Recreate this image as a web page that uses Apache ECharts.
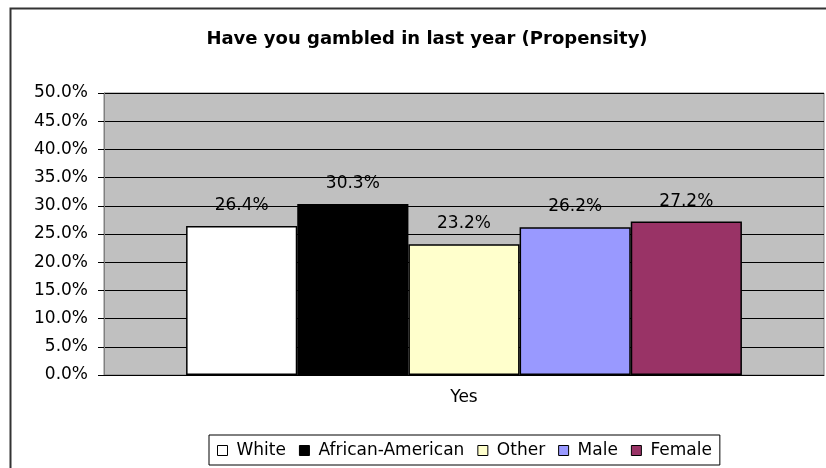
<!DOCTYPE html>
<html>
<head>
<meta charset="utf-8">
<script src="https://cdn.jsdelivr.net/npm/echarts@6/dist/echarts.min.js"></script>
<style>
html,body{margin:0;padding:0;background:#fff;}
#c{width:826px;height:468px;}
</style>
</head>
<body>
<div id="c"></div>
<script>
var categories = ['Yes'];
var seriesNames = ['White', 'African-American', 'Other', 'Male', 'Female'];
var seriesValues = [26.4, 30.3, 23.2, 26.2, 27.2];
var yTicks = [0, 5, 10, 15, 20, 25, 30, 35, 40, 45, 50];
var titleText = 'Have you gambled in last year (Propensity)';

var colors = ['#FFFFFF', '#000000', '#FFFFCC', '#9999FF', '#993366'];
var FONT = '"DejaVu Sans", Arial, sans-serif';

var chart = echarts.init(document.getElementById('c'), null, {renderer: 'canvas'});
var series = seriesNames.map(function (n, i) {
  return {
    name: n,
    type: 'bar',
    data: [seriesValues[i]],
    barGap: '0%',
    barCategoryGap: '22.8%',
    itemStyle: {color: colors[i], borderColor: '#000', borderWidth: 1.5},
    label: {
      show: true, position: 'top', distance: 12,
      formatter: function (p) { return p.value.toFixed(1) + '%'; },
      fontFamily: FONT, fontSize: 17, color: '#000'
    }
  };
});

chart.setOption({
  animation: false,
  backgroundColor: '#fff',
  title: {
    text: titleText, left: 422, textAlign: 'center', top: 25,
    textStyle: {fontFamily: FONT, fontSize: 18, fontWeight: 'bold', color: '#000'}
  },
  grid: {
    left: 104, top: 93, width: 720, height: 282,
    show: true, backgroundColor: '#C0C0C0', borderColor: '#808080', borderWidth: 1
  },
  legend: {
    data: seriesNames,
    left: 209, top: 435,
    padding: [7, 8, 6, 8],
    itemWidth: 10, itemHeight: 10, itemGap: 13,
    icon: 'rect',
    borderColor: '#000', borderWidth: 1,
    itemStyle: {borderColor: '#000', borderWidth: 1},
    textStyle: {fontFamily: FONT, fontSize: 17, color: '#000', padding: [0, 0, 0, 4]}
  },
  xAxis: {
    type: 'category', data: categories,
    axisLine: {show: true, lineStyle: {color: '#000', width: 1}},
    axisTick: {show: false},
    axisLabel: {fontFamily: FONT, fontSize: 17, color: '#000', margin: 14}
  },
  yAxis: {
    type: 'value', min: 0, max: 50, interval: 5,
    axisLine: {show: true, lineStyle: {color: '#808080'}},
    axisTick: {show: true, length: 6, lineStyle: {color: '#000'}},
    splitLine: {show: true, lineStyle: {color: '#000', width: 1}},
    axisLabel: {
      fontFamily: FONT, fontSize: 17, color: '#000', margin: 16,
      formatter: function (v) { return yTicks.indexOf(v) >= 0 ? v.toFixed(1) + '%' : ''; }
    }
  },
  series: series,
  graphic: [{
    type: 'rect', left: 8, top: 6, silent: true,
    shape: {x: 0, y: 0, width: 900, height: 600},
    style: {fill: 'none', stroke: '#333', lineWidth: 2}
  }]
});
</script>
</body>
</html>
